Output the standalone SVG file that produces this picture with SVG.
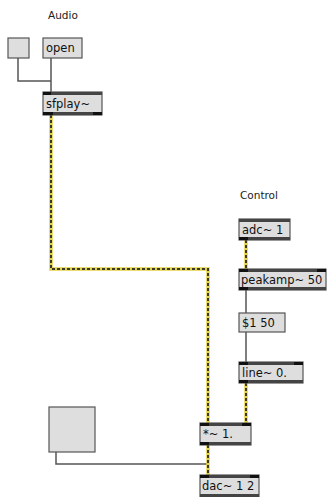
<svg xmlns="http://www.w3.org/2000/svg" width="333" height="497" viewBox="0 0 333 497">
  <style>
    .lbl { font-family: "DejaVu Sans", sans-serif; font-size: 10.5px; fill: #222; }
    .txt { font-family: "DejaVu Sans", sans-serif; font-size: 11.5px; fill: #111; }
    .box { fill: #dedede; stroke: #555; stroke-width: 1.2; }
    .bar { fill: #444; }
    .port { fill: #111; }
    .ctl { fill: none; stroke: #555; stroke-width: 1.5; }
    .sigBase { fill: none; stroke: #e3d247; stroke-width: 3.5; }
    .sigDash { fill: none; stroke: #3a3a2a; stroke-width: 2; stroke-dasharray: 3 2; }
  </style>
  <rect width="333" height="497" fill="#ffffff"/>

  <text class="lbl" x="48" y="19">Audio</text>
  <text class="lbl" x="240" y="199">Control</text>

  <g id="connectors">
    <!-- control cables -->
    <polyline class="ctl" points="18,58 18,81 51,81"/>
    <polyline class="ctl" points="51,58 51,92"/>
    <polyline class="ctl" points="246,290 246,313"/>
    <polyline class="ctl" points="246,332 246,362"/>
    <polyline class="ctl" points="56,452 56,464 208,464 208,475"/>
    <!-- signal cables -->
    <polyline class="sigBase" points="51,115 51,269 208,269 208,423"/>
    <polyline class="sigDash" points="51,115 51,269 208,269 208,423"/>
    <polyline class="sigBase" points="246,240 246,269"/>
    <polyline class="sigDash" points="246,240 246,269"/>
    <polyline class="sigBase" points="246,383 246,423"/>
    <polyline class="sigDash" points="246,383 246,423"/>
    <polyline class="sigBase" points="208,445 208,475"/>
    <polyline class="sigDash" points="208,445 208,475"/>
  </g>

  <g id="toggle">
    <rect class="box" x="8" y="38" width="21" height="20"/>
  </g>

  <g id="msg-open">
    <rect class="box" x="43" y="38" width="39" height="20"/>
    <text class="txt" x="46" y="52">open</text>
  </g>

  <g id="sfplay">
    <rect class="box" x="43" y="92" width="59" height="23"/>
    <rect class="bar" x="43" y="92" width="59" height="3"/>
    <rect class="bar" x="43" y="112" width="59" height="3"/>
    <rect class="port" x="43" y="92" width="8" height="3"/>
    <rect class="port" x="43" y="112" width="10" height="3"/>
    <rect class="port" x="93" y="112" width="9" height="3"/>
    <text class="txt" x="46" y="108">sfplay~</text>
  </g>

  <g id="adc">
    <rect class="box" x="239" y="219" width="51" height="21"/>
    <rect class="bar" x="239" y="219" width="51" height="3"/>
    <rect class="bar" x="239" y="237" width="51" height="3"/>
    <rect class="port" x="239" y="237" width="9" height="3"/>
    <text class="txt" x="242" y="234">adc~ 1</text>
  </g>

  <g id="peakamp">
    <rect class="box" x="239" y="269" width="87" height="21"/>
    <rect class="bar" x="239" y="269" width="87" height="3"/>
    <rect class="bar" x="239" y="287" width="87" height="3"/>
    <rect class="port" x="239" y="269" width="9" height="3"/>
    <rect class="port" x="317" y="269" width="9" height="3"/>
    <rect class="port" x="239" y="287" width="9" height="3"/>
    <text class="txt" x="241" y="284">peakamp~ 50</text>
  </g>

  <g id="msg-ramp">
    <rect class="box" x="239" y="313" width="46" height="19"/>
    <text class="txt" x="242" y="327">$1 50</text>
  </g>

  <g id="line">
    <rect class="box" x="239" y="362" width="64" height="21"/>
    <rect class="bar" x="239" y="362" width="64" height="3"/>
    <rect class="bar" x="239" y="380" width="64" height="3"/>
    <rect class="port" x="239" y="362" width="9" height="3"/>
    <rect class="port" x="294" y="362" width="9" height="3"/>
    <rect class="port" x="239" y="380" width="9" height="3"/>
    <text class="txt" x="242" y="377">line~ 0.</text>
  </g>

  <g id="button">
    <rect class="box" x="49" y="407" width="46" height="45"/>
  </g>

  <g id="mul">
    <rect class="box" x="200" y="423" width="51" height="22"/>
    <rect class="bar" x="200" y="423" width="51" height="3"/>
    <rect class="bar" x="200" y="442" width="51" height="3"/>
    <rect class="port" x="200" y="423" width="9" height="3"/>
    <rect class="port" x="242" y="423" width="9" height="3"/>
    <rect class="port" x="200" y="442" width="9" height="3"/>
    <text class="txt" x="203" y="438">*~ 1.</text>
  </g>

  <g id="dac">
    <rect class="box" x="200" y="475" width="59" height="22"/>
    <rect class="bar" x="200" y="475" width="59" height="3"/>
    <rect class="bar" x="200" y="494" width="59" height="3"/>
    <rect class="port" x="200" y="475" width="9" height="3"/>
    <rect class="port" x="250" y="475" width="9" height="3"/>
    <text class="txt" x="202" y="490">dac~ 1 2</text>
  </g>
</svg>
